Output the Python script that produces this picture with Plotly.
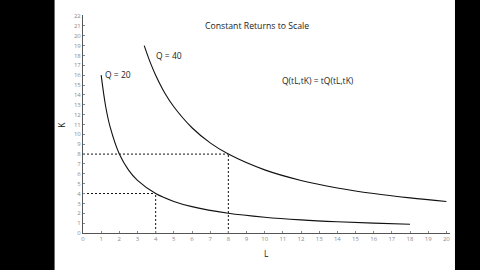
import plotly.graph_objects as go

# Isoquant Q = 20
q20_L = [1.0, 1.25, 1.5, 2.0, 2.5, 3.0, 4.0, 5.0, 6.0, 8.0, 10.0, 12.0, 14.0, 16.0, 18.0]
q20_K = [16.0, 12.8, 10.7, 8.0, 6.4, 5.33, 4.0, 3.2, 2.67, 2.0, 1.6, 1.33, 1.14, 1.0, 0.89]

# Isoquant Q = 40
q40_L = [3.37, 3.7, 4.0, 4.5, 5.0, 6.0, 7.0, 8.0, 10.0, 12.0, 14.0, 16.0, 18.0, 20.0]
q40_K = [19.0, 17.3, 16.0, 14.2, 12.8, 10.67, 9.14, 8.0, 6.4, 5.33, 4.57, 4.0, 3.56, 3.2]

# Dashed guide points
guide_L = [4, 8]
guide_K = [4, 8]

x_ticks = list(range(0, 21))
y_ticks = list(range(0, 23))

X_RANGE = [0, 20.2]
Y_RANGE = [0, 22.1]

W, H = 480, 270
ML, MB = 83.4, 36.7
PX_PER_X = 18.15
PX_PER_Y = 10.0
plot_w = (X_RANGE[1] - X_RANGE[0]) * PX_PER_X
plot_h = (Y_RANGE[1] - Y_RANGE[0]) * PX_PER_Y
MR = W - ML - plot_w
MT = H - MB - plot_h

fig = go.Figure()

line_style = dict(color="#111111", width=1.1)
dash_style = dict(color="#111111", width=1, dash="2px,2px")

fig.add_trace(go.Scatter(x=q20_L, y=q20_K, mode="lines", line=dict(shape="spline", smoothing=1.0, **line_style), hoverinfo="skip"))
fig.add_trace(go.Scatter(x=q40_L, y=q40_K, mode="lines", line=dict(shape="spline", smoothing=1.0, **line_style), hoverinfo="skip"))

for gl, gk in zip(guide_L, guide_K):
    fig.add_trace(go.Scatter(x=[X_RANGE[0], gl], y=[gk, gk], mode="lines", line=dash_style, hoverinfo="skip"))
    fig.add_trace(go.Scatter(x=[gl, gl], y=[Y_RANGE[0], gk], mode="lines", line=dash_style, hoverinfo="skip"))

def px_to_paper_x(px):
    return (px - ML) / plot_w

def px_to_paper_y(py):
    return (H - MB - py) / plot_h

shapes = [
    dict(type="rect", xref="paper", yref="paper", x0=px_to_paper_x(-5), x1=px_to_paper_x(55),
         y0=px_to_paper_y(280), y1=px_to_paper_y(-10), fillcolor="black", line=dict(width=0), layer="above"),
    dict(type="rect", xref="paper", yref="paper", x0=px_to_paper_x(455), x1=px_to_paper_x(485),
         y0=px_to_paper_y(280), y1=px_to_paper_y(-10), fillcolor="black", line=dict(width=0), layer="above"),
]

font_family = "Open Sans, Liberation Sans, sans-serif"
TXT = "#222222"
annotations = [
    dict(text="Constant Returns to Scale", x=px_to_paper_x(257), y=px_to_paper_y(23), xref="paper", yref="paper",
         showarrow=False, font=dict(size=8.7, color=TXT, family=font_family), xanchor="center", yanchor="middle"),
    dict(text="Q(tL,tK) = tQ(tL,tK)", x=px_to_paper_x(318), y=px_to_paper_y(79), xref="paper", yref="paper",
         showarrow=False, font=dict(size=8.5, color=TXT, family=font_family), xanchor="center", yanchor="middle"),
    dict(text="Q = 20", x=px_to_paper_x(103.5), y=px_to_paper_y(73), xref="paper", yref="paper",
         showarrow=False, font=dict(size=8.5, color=TXT, family=font_family), xanchor="left", yanchor="middle"),
    dict(text="Q = 40", x=px_to_paper_x(154.5), y=px_to_paper_y(53), xref="paper", yref="paper",
         showarrow=False, font=dict(size=8.5, color=TXT, family=font_family), xanchor="left", yanchor="middle"),
    dict(text="K", x=px_to_paper_x(62), y=px_to_paper_y(124), xref="paper", yref="paper", textangle=-90,
         showarrow=False, font=dict(size=8.5, color=TXT, family=font_family), xanchor="center", yanchor="middle"),
    dict(text="L", x=px_to_paper_x(267), y=px_to_paper_y(254), xref="paper", yref="paper",
         showarrow=False, font=dict(size=8.5, color=TXT, family=font_family), xanchor="center", yanchor="middle"),
]

axis_common = dict(
    showgrid=False, zeroline=False, showline=True, linecolor="#555555", linewidth=1,
    ticks="inside", ticklen=2, tickcolor="#888888", tickwidth=1,
    tickfont=dict(size=6, color="#8a8a8a", family=font_family), fixedrange=True,
)

fig.update_layout(
    width=W, height=H,
    margin=dict(l=ML, r=MR, t=MT, b=MB, pad=0),
    paper_bgcolor="white", plot_bgcolor="white",
    showlegend=False,
    xaxis=dict(range=X_RANGE, tickmode="array", tickvals=x_ticks, ticktext=[str(v) for v in x_ticks], **axis_common),
    yaxis=dict(range=Y_RANGE, tickmode="array", tickvals=y_ticks, ticktext=[str(v) for v in y_ticks], **axis_common),
    shapes=shapes,
    annotations=annotations,
)

fig.write_html("out.html", config={"displayModeBar": False})
